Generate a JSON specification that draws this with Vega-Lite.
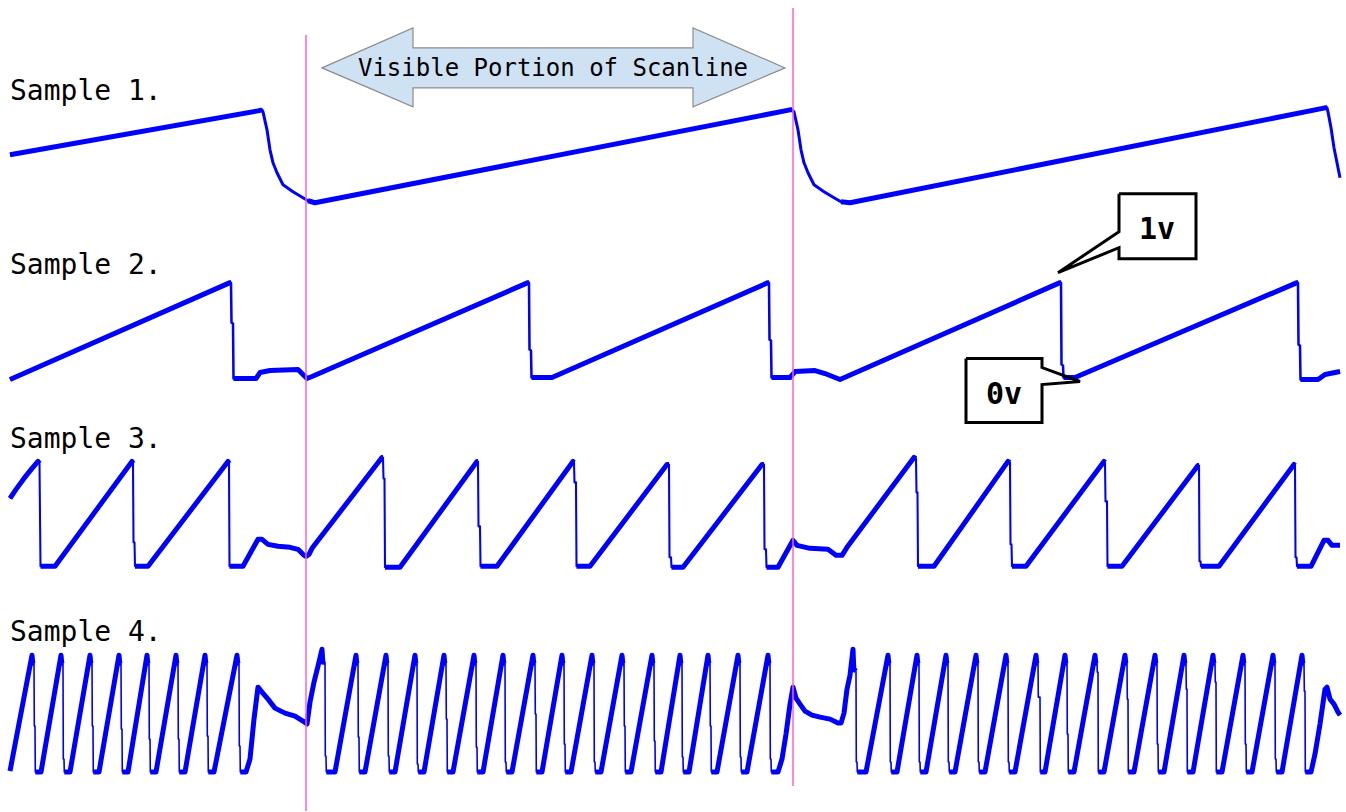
{
"$schema": "https://vega.github.io/schema/vega-lite/v6.json",
"width": 1346, "height": 812,
"autosize": {"type": "fit", "contains": "padding"},
"padding": 0,
"background": "white",
"config": {"view": {"stroke": null}},
"datasets": {
"traces": [
{"s":"1","g":"1a","t":10,"v":155},{"s":"1","g":"1a","t":258,"v":111},{"s":"1","g":"1a","t":262,"v":110},
{"s":"1","g":"-","t":263,"v":112},{"s":"1","g":"-","t":267,"v":130},{"s":"1","g":"-","t":270,"v":150},{"s":"1","g":"-","t":273,"v":163},{"s":"1","g":"-","t":277,"v":173},{"s":"1","g":"-","t":283,"v":185},{"s":"1","g":"-","t":293,"v":192},{"s":"1","g":"-","t":303,"v":198},
{"s":"1","g":"1b","t":308,"v":201},{"s":"1","g":"1b","t":315,"v":203},{"s":"1","g":"1b","t":790,"v":110},{"s":"1","g":"1b","t":792,"v":110},
{"s":"1","g":"-","t":794,"v":112},{"s":"1","g":"-","t":798,"v":130},{"s":"1","g":"-","t":801,"v":150},{"s":"1","g":"-","t":804,"v":163},{"s":"1","g":"-","t":808,"v":173},{"s":"1","g":"-","t":814,"v":185},{"s":"1","g":"-","t":824,"v":192},{"s":"1","g":"-","t":834,"v":198},
{"s":"1","g":"1c","t":841,"v":202},{"s":"1","g":"1c","t":850,"v":203},{"s":"1","g":"1c","t":1325,"v":108},{"s":"1","g":"1c","t":1327,"v":108},
{"s":"1","g":"-","t":1328,"v":112},{"s":"1","g":"-","t":1331,"v":128},{"s":"1","g":"-","t":1334,"v":148},{"s":"1","g":"-","t":1337,"v":163},{"s":"1","g":"-","t":1340,"v":178},

{"s":"2","g":"2a","t":10,"v":380},{"s":"2","g":"2a","t":230,"v":283},{"s":"2","g":"2a","t":231,"v":283},
{"s":"2","g":"-","t":231.5,"v":323},{"s":"2","g":"-","t":233,"v":324},
{"s":"2","g":"2b","t":233.5,"v":379},{"s":"2","g":"2b","t":256,"v":379},{"s":"2","g":"2b","t":260,"v":373},{"s":"2","g":"2b","t":270,"v":371},{"s":"2","g":"2b","t":298,"v":370},{"s":"2","g":"2b","t":303,"v":375},{"s":"2","g":"2b","t":307,"v":379},{"s":"2","g":"2b","t":312,"v":377},{"s":"2","g":"2b","t":528,"v":283},{"s":"2","g":"2b","t":529,"v":283},
{"s":"2","g":"-","t":529.5,"v":350},{"s":"2","g":"-","t":531,"v":351},
{"s":"2","g":"2c","t":531.5,"v":378},{"s":"2","g":"2c","t":552,"v":378},{"s":"2","g":"2c","t":768,"v":283},{"s":"2","g":"2c","t":769,"v":283},
{"s":"2","g":"-","t":769.5,"v":340},{"s":"2","g":"-","t":771,"v":341},
{"s":"2","g":"2d","t":771.5,"v":378},{"s":"2","g":"2d","t":790,"v":378},{"s":"2","g":"2d","t":795,"v":372},{"s":"2","g":"2d","t":815,"v":371},{"s":"2","g":"2d","t":825,"v":374},{"s":"2","g":"2d","t":840,"v":380},{"s":"2","g":"2d","t":1060,"v":283},{"s":"2","g":"2d","t":1061,"v":283},
{"s":"2","g":"-","t":1061.5,"v":365},{"s":"2","g":"-","t":1063,"v":366},
{"s":"2","g":"2e","t":1063.5,"v":378},{"s":"2","g":"2e","t":1075,"v":378},{"s":"2","g":"2e","t":1297,"v":283},{"s":"2","g":"2e","t":1298,"v":283},
{"s":"2","g":"-","t":1298.5,"v":345},{"s":"2","g":"-","t":1300,"v":346},
{"s":"2","g":"2f","t":1300.5,"v":380},{"s":"2","g":"2f","t":1318,"v":380},{"s":"2","g":"2f","t":1325,"v":375},{"s":"2","g":"2f","t":1340,"v":372},

{"s":"3","g":"3a","t":10,"v":499},{"s":"3","g":"3a","t":16,"v":490},{"s":"3","g":"3a","t":24,"v":479},{"s":"3","g":"3a","t":32,"v":469},{"s":"3","g":"3a","t":38,"v":462},{"s":"3","g":"3a","t":39.5,"v":464},
{"s":"3","g":"3b","t":40.5,"v":567},{"s":"3","g":"3b","t":55,"v":567},{"s":"3","g":"3b","t":132,"v":462},{"s":"3","g":"3b","t":133,"v":464},
{"s":"3","g":"-","t":133.5,"v":543},{"s":"3","g":"-","t":134.5,"v":543},
{"s":"3","g":"3c","t":135,"v":567},{"s":"3","g":"3c","t":148,"v":567},{"s":"3","g":"3c","t":228,"v":462},{"s":"3","g":"3c","t":229,"v":464},
{"s":"3","g":"3d","t":229.5,"v":567},{"s":"3","g":"3d","t":243,"v":567},{"s":"3","g":"3d","t":258,"v":540},{"s":"3","g":"3d","t":262,"v":540},{"s":"3","g":"3d","t":268,"v":545},{"s":"3","g":"3d","t":278,"v":547},{"s":"3","g":"3d","t":290,"v":548},{"s":"3","g":"3d","t":298,"v":550},{"s":"3","g":"3d","t":303,"v":555},{"s":"3","g":"3d","t":306,"v":557},{"s":"3","g":"3d","t":309,"v":555},{"s":"3","g":"3d","t":312,"v":549},{"s":"3","g":"3d","t":382,"v":458},{"s":"3","g":"3d","t":383,"v":458},
{"s":"3","g":"-","t":383.5,"v":479},{"s":"3","g":"-","t":384.5,"v":479},
{"s":"3","g":"3e","t":385,"v":568},{"s":"3","g":"3e","t":400,"v":568},{"s":"3","g":"3e","t":477,"v":462},{"s":"3","g":"3e","t":478,"v":462},
{"s":"3","g":"-","t":478.5,"v":527},{"s":"3","g":"-","t":480,"v":527},
{"s":"3","g":"3f","t":480.5,"v":567},{"s":"3","g":"3f","t":497,"v":567},{"s":"3","g":"3f","t":573,"v":462},{"s":"3","g":"3f","t":574,"v":463},
{"s":"3","g":"-","t":574.5,"v":483},{"s":"3","g":"-","t":576,"v":483},
{"s":"3","g":"3g","t":576.5,"v":567},{"s":"3","g":"3g","t":590,"v":567},{"s":"3","g":"3g","t":667,"v":465},{"s":"3","g":"3g","t":669,"v":465},
{"s":"3","g":"-","t":669.5,"v":558},{"s":"3","g":"-","t":671,"v":558},
{"s":"3","g":"3h","t":671.5,"v":568},{"s":"3","g":"3h","t":683,"v":568},{"s":"3","g":"3h","t":762,"v":465},{"s":"3","g":"3h","t":764,"v":465},
{"s":"3","g":"-","t":764.5,"v":550},{"s":"3","g":"-","t":766,"v":550},
{"s":"3","g":"3i","t":766.5,"v":568},{"s":"3","g":"3i","t":778,"v":568},{"s":"3","g":"3i","t":793,"v":541},{"s":"3","g":"3i","t":797,"v":546},{"s":"3","g":"3i","t":810,"v":549},{"s":"3","g":"3i","t":828,"v":550},{"s":"3","g":"3i","t":836,"v":556},{"s":"3","g":"3i","t":842,"v":556},{"s":"3","g":"3i","t":847,"v":548},{"s":"3","g":"3i","t":914,"v":458},{"s":"3","g":"3i","t":916,"v":459},
{"s":"3","g":"-","t":916.5,"v":493},{"s":"3","g":"-","t":917.5,"v":493},
{"s":"3","g":"3j","t":918,"v":567},{"s":"3","g":"3j","t":934,"v":567},{"s":"3","g":"3j","t":1008,"v":462},{"s":"3","g":"3j","t":1010,"v":463},
{"s":"3","g":"-","t":1010.5,"v":545},{"s":"3","g":"-","t":1011.5,"v":545},
{"s":"3","g":"3k","t":1012,"v":567},{"s":"3","g":"3k","t":1026,"v":567},{"s":"3","g":"3k","t":1104,"v":462},{"s":"3","g":"3k","t":1105,"v":463},
{"s":"3","g":"-","t":1105.5,"v":502},{"s":"3","g":"-","t":1107,"v":502},
{"s":"3","g":"3l","t":1107.5,"v":567},{"s":"3","g":"3l","t":1122,"v":567},{"s":"3","g":"3l","t":1198,"v":466},{"s":"3","g":"3l","t":1199,"v":466},
{"s":"3","g":"-","t":1199.5,"v":562},{"s":"3","g":"-","t":1200.5,"v":562},
{"s":"3","g":"3m","t":1201,"v":567},{"s":"3","g":"3m","t":1219,"v":567},{"s":"3","g":"3m","t":1294,"v":465},{"s":"3","g":"3m","t":1295,"v":466},
{"s":"3","g":"-","t":1295.5,"v":558},{"s":"3","g":"-","t":1296.5,"v":558},
{"s":"3","g":"3n","t":1297,"v":567},{"s":"3","g":"3n","t":1311,"v":567},{"s":"3","g":"3n","t":1324,"v":541},{"s":"3","g":"3n","t":1328,"v":541},{"s":"3","g":"3n","t":1332,"v":546},{"s":"3","g":"3n","t":1340,"v":546},

{"s":"4","g":"4a","t":10,"v":772},{"s":"4","g":"4a","t":32,"v":656},{"s":"4","g":"4a","t":32.8,"v":664},{"s":"4","g":"4a","t":34,"v":664},
{"s":"4","g":"-","t":34.3,"v":727},{"s":"4","g":"-","t":35,"v":727},
{"s":"4","g":"4b","t":35.3,"v":773},{"s":"4","g":"4b","t":41,"v":773},{"s":"4","g":"4b","t":61,"v":656},{"s":"4","g":"4b","t":61.8,"v":664},{"s":"4","g":"4b","t":63,"v":664},
{"s":"4","g":"-","t":63.3,"v":760},{"s":"4","g":"-","t":64,"v":760},
{"s":"4","g":"4c","t":64.3,"v":773},{"s":"4","g":"4c","t":70,"v":773},{"s":"4","g":"4c","t":90,"v":656},{"s":"4","g":"4c","t":90.8,"v":664},{"s":"4","g":"4c","t":92,"v":664},
{"s":"4","g":"-","t":92.3,"v":727},{"s":"4","g":"-","t":93,"v":727},
{"s":"4","g":"4d","t":93.3,"v":773},{"s":"4","g":"4d","t":99,"v":773},{"s":"4","g":"4d","t":119,"v":656},{"s":"4","g":"4d","t":119.8,"v":664},{"s":"4","g":"4d","t":121,"v":664},
{"s":"4","g":"-","t":121.3,"v":730},{"s":"4","g":"-","t":122,"v":730},
{"s":"4","g":"4e","t":122.3,"v":773},{"s":"4","g":"4e","t":128,"v":773},{"s":"4","g":"4e","t":147,"v":656},{"s":"4","g":"4e","t":147.8,"v":664},{"s":"4","g":"4e","t":149,"v":664},
{"s":"4","g":"-","t":149.3,"v":740},{"s":"4","g":"-","t":150,"v":740},
{"s":"4","g":"4f","t":150.3,"v":773},{"s":"4","g":"4f","t":156,"v":773},{"s":"4","g":"4f","t":176,"v":656},{"s":"4","g":"4f","t":176.8,"v":664},{"s":"4","g":"4f","t":178,"v":664},
{"s":"4","g":"-","t":178.3,"v":740},{"s":"4","g":"-","t":179,"v":740},
{"s":"4","g":"4g","t":179.3,"v":773},{"s":"4","g":"4g","t":185,"v":773},{"s":"4","g":"4g","t":205,"v":656},{"s":"4","g":"4g","t":205.8,"v":664},{"s":"4","g":"4g","t":207,"v":664},
{"s":"4","g":"-","t":207.3,"v":737},{"s":"4","g":"-","t":208,"v":737},
{"s":"4","g":"4h","t":208.3,"v":773},{"s":"4","g":"4h","t":214,"v":773},{"s":"4","g":"4h","t":237,"v":656},{"s":"4","g":"4h","t":237.8,"v":664},{"s":"4","g":"4h","t":239,"v":664},
{"s":"4","g":"-","t":239.3,"v":747},{"s":"4","g":"-","t":240,"v":747},
{"s":"4","g":"4i","t":240.3,"v":773},{"s":"4","g":"4i","t":246,"v":773},{"s":"4","g":"4i","t":250,"v":760},{"s":"4","g":"4i","t":254,"v":720},{"s":"4","g":"4i","t":258,"v":688},{"s":"4","g":"4i","t":262,"v":693},{"s":"4","g":"4i","t":268,"v":700},{"s":"4","g":"4i","t":275,"v":709},{"s":"4","g":"4i","t":285,"v":714},{"s":"4","g":"4i","t":295,"v":717},{"s":"4","g":"4i","t":303,"v":722},{"s":"4","g":"4i","t":307,"v":725},{"s":"4","g":"4i","t":310,"v":703},{"s":"4","g":"4i","t":314,"v":683},{"s":"4","g":"4i","t":318,"v":667},{"s":"4","g":"4i","t":322,"v":650},{"s":"4","g":"4i","t":322.8,"v":663},{"s":"4","g":"4i","t":325,"v":663},
{"s":"4","g":"-","t":325.3,"v":757},{"s":"4","g":"-","t":326,"v":757},
{"s":"4","g":"4j","t":326.3,"v":773},{"s":"4","g":"4j","t":335,"v":773},{"s":"4","g":"4j","t":356,"v":656},{"s":"4","g":"4j","t":356.8,"v":664},{"s":"4","g":"4j","t":358,"v":664},
{"s":"4","g":"-","t":358.3,"v":738},{"s":"4","g":"-","t":359,"v":738},
{"s":"4","g":"4k","t":359.3,"v":773},{"s":"4","g":"4k","t":365,"v":773},{"s":"4","g":"4k","t":386,"v":656},{"s":"4","g":"4k","t":386.8,"v":664},{"s":"4","g":"4k","t":388,"v":664},
{"s":"4","g":"-","t":388.3,"v":757},{"s":"4","g":"-","t":389,"v":757},
{"s":"4","g":"4l","t":389.3,"v":773},{"s":"4","g":"4l","t":395,"v":773},{"s":"4","g":"4l","t":415,"v":656},{"s":"4","g":"4l","t":415.8,"v":664},{"s":"4","g":"4l","t":417,"v":664},
{"s":"4","g":"-","t":417.3,"v":765},{"s":"4","g":"-","t":418,"v":765},
{"s":"4","g":"4m","t":418.3,"v":773},{"s":"4","g":"4m","t":424,"v":773},{"s":"4","g":"4m","t":444,"v":656},{"s":"4","g":"4m","t":444.8,"v":664},{"s":"4","g":"4m","t":446,"v":664},
{"s":"4","g":"-","t":446.3,"v":720},{"s":"4","g":"-","t":447,"v":720},
{"s":"4","g":"4n","t":447.3,"v":773},{"s":"4","g":"4n","t":453,"v":773},{"s":"4","g":"4n","t":474,"v":656},{"s":"4","g":"4n","t":474.8,"v":664},{"s":"4","g":"4n","t":476,"v":664},
{"s":"4","g":"-","t":476.3,"v":748},{"s":"4","g":"-","t":477,"v":748},
{"s":"4","g":"4o","t":477.3,"v":773},{"s":"4","g":"4o","t":483,"v":773},{"s":"4","g":"4o","t":503,"v":656},{"s":"4","g":"4o","t":503.8,"v":664},{"s":"4","g":"4o","t":505,"v":664},
{"s":"4","g":"-","t":505.3,"v":763},{"s":"4","g":"-","t":506,"v":763},
{"s":"4","g":"4p","t":506.3,"v":773},{"s":"4","g":"4p","t":512,"v":773},{"s":"4","g":"4p","t":533,"v":656},{"s":"4","g":"4p","t":533.8,"v":664},{"s":"4","g":"4p","t":535,"v":664},
{"s":"4","g":"-","t":535.3,"v":715},{"s":"4","g":"-","t":536,"v":715},
{"s":"4","g":"4q","t":536.3,"v":773},{"s":"4","g":"4q","t":542,"v":773},{"s":"4","g":"4q","t":562,"v":656},{"s":"4","g":"4q","t":562.8,"v":664},{"s":"4","g":"4q","t":564,"v":664},
{"s":"4","g":"-","t":564.3,"v":745},{"s":"4","g":"-","t":565,"v":745},
{"s":"4","g":"4r","t":565.3,"v":773},{"s":"4","g":"4r","t":571,"v":773},{"s":"4","g":"4r","t":592,"v":656},{"s":"4","g":"4r","t":592.8,"v":664},{"s":"4","g":"4r","t":594,"v":664},
{"s":"4","g":"-","t":594.3,"v":763},{"s":"4","g":"-","t":595,"v":763},
{"s":"4","g":"4s","t":595.3,"v":773},{"s":"4","g":"4s","t":601,"v":773},{"s":"4","g":"4s","t":622,"v":656},{"s":"4","g":"4s","t":622.8,"v":664},{"s":"4","g":"4s","t":624,"v":664},
{"s":"4","g":"-","t":624.3,"v":727},{"s":"4","g":"-","t":625,"v":727},
{"s":"4","g":"4t","t":625.3,"v":773},{"s":"4","g":"4t","t":631,"v":773},{"s":"4","g":"4t","t":652,"v":656},{"s":"4","g":"4t","t":652.8,"v":664},{"s":"4","g":"4t","t":654,"v":664},
{"s":"4","g":"-","t":654.3,"v":742},{"s":"4","g":"-","t":655,"v":742},
{"s":"4","g":"4u","t":655.3,"v":773},{"s":"4","g":"4u","t":661,"v":773},{"s":"4","g":"4u","t":680,"v":656},{"s":"4","g":"4u","t":680.8,"v":664},{"s":"4","g":"4u","t":682,"v":664},
{"s":"4","g":"-","t":682.3,"v":758},{"s":"4","g":"-","t":683,"v":758},
{"s":"4","g":"4v","t":683.3,"v":773},{"s":"4","g":"4v","t":689,"v":773},{"s":"4","g":"4v","t":708,"v":656},{"s":"4","g":"4v","t":708.8,"v":664},{"s":"4","g":"4v","t":710,"v":664},
{"s":"4","g":"-","t":710.3,"v":727},{"s":"4","g":"-","t":711,"v":727},
{"s":"4","g":"4w","t":711.3,"v":773},{"s":"4","g":"4w","t":717,"v":773},{"s":"4","g":"4w","t":738,"v":656},{"s":"4","g":"4w","t":738.8,"v":664},{"s":"4","g":"4w","t":740,"v":664},
{"s":"4","g":"-","t":740.3,"v":758},{"s":"4","g":"-","t":741,"v":758},
{"s":"4","g":"4x","t":741.3,"v":773},{"s":"4","g":"4x","t":747,"v":773},{"s":"4","g":"4x","t":768,"v":656},{"s":"4","g":"4x","t":768.8,"v":664},{"s":"4","g":"4x","t":770,"v":664},
{"s":"4","g":"-","t":770.3,"v":760},{"s":"4","g":"-","t":771,"v":760},
{"s":"4","g":"4y","t":771.3,"v":773},{"s":"4","g":"4y","t":778,"v":773},{"s":"4","g":"4y","t":782,"v":760},{"s":"4","g":"4y","t":786,"v":735},{"s":"4","g":"4y","t":790,"v":705},{"s":"4","g":"4y","t":793,"v":688},{"s":"4","g":"4y","t":796,"v":699},{"s":"4","g":"4y","t":800,"v":705},{"s":"4","g":"4y","t":805,"v":712},{"s":"4","g":"4y","t":812,"v":716},{"s":"4","g":"4y","t":820,"v":718},{"s":"4","g":"4y","t":830,"v":720},{"s":"4","g":"4y","t":838,"v":724},{"s":"4","g":"4y","t":841,"v":724},{"s":"4","g":"4y","t":844,"v":714},{"s":"4","g":"4y","t":847,"v":690},{"s":"4","g":"4y","t":850,"v":676},{"s":"4","g":"4y","t":853,"v":650},{"s":"4","g":"4y","t":853.8,"v":670},{"s":"4","g":"4y","t":856,"v":672},
{"s":"4","g":"-","t":856.3,"v":763},{"s":"4","g":"-","t":857,"v":763},
{"s":"4","g":"4z","t":857.3,"v":773},{"s":"4","g":"4z","t":866,"v":773},{"s":"4","g":"4z","t":888,"v":656},{"s":"4","g":"4z","t":888.8,"v":664},{"s":"4","g":"4z","t":890,"v":664},
{"s":"4","g":"-","t":890.3,"v":763},{"s":"4","g":"-","t":891,"v":763},
{"s":"4","g":"4A","t":891.3,"v":773},{"s":"4","g":"4A","t":897,"v":773},{"s":"4","g":"4A","t":917,"v":656},{"s":"4","g":"4A","t":917.8,"v":664},{"s":"4","g":"4A","t":919,"v":664},
{"s":"4","g":"-","t":919.3,"v":763},{"s":"4","g":"-","t":920,"v":763},
{"s":"4","g":"4B","t":920.3,"v":773},{"s":"4","g":"4B","t":926,"v":773},{"s":"4","g":"4B","t":946,"v":656},{"s":"4","g":"4B","t":946.8,"v":664},{"s":"4","g":"4B","t":948,"v":664},
{"s":"4","g":"-","t":948.3,"v":763},{"s":"4","g":"-","t":949,"v":763},
{"s":"4","g":"4C","t":949.3,"v":773},{"s":"4","g":"4C","t":955,"v":773},{"s":"4","g":"4C","t":976,"v":656},{"s":"4","g":"4C","t":976.8,"v":664},{"s":"4","g":"4C","t":978,"v":664},
{"s":"4","g":"-","t":978.3,"v":763},{"s":"4","g":"-","t":979,"v":763},
{"s":"4","g":"4D","t":979.3,"v":773},{"s":"4","g":"4D","t":985,"v":773},{"s":"4","g":"4D","t":1006,"v":656},{"s":"4","g":"4D","t":1006.8,"v":664},{"s":"4","g":"4D","t":1008,"v":664},
{"s":"4","g":"-","t":1008.3,"v":763},{"s":"4","g":"-","t":1009,"v":763},
{"s":"4","g":"4E","t":1009.3,"v":773},{"s":"4","g":"4E","t":1015,"v":773},{"s":"4","g":"4E","t":1036,"v":656},{"s":"4","g":"4E","t":1036.8,"v":664},{"s":"4","g":"4E","t":1038,"v":664},
{"s":"4","g":"-","t":1038.3,"v":698},{"s":"4","g":"-","t":1040,"v":698},
{"s":"4","g":"4F","t":1040.3,"v":773},{"s":"4","g":"4F","t":1045,"v":773},{"s":"4","g":"4F","t":1065,"v":656},{"s":"4","g":"4F","t":1065.8,"v":664},{"s":"4","g":"4F","t":1067,"v":664},
{"s":"4","g":"-","t":1067.3,"v":735},{"s":"4","g":"-","t":1068,"v":735},
{"s":"4","g":"4G","t":1068.3,"v":773},{"s":"4","g":"4G","t":1074,"v":773},{"s":"4","g":"4G","t":1095,"v":656},{"s":"4","g":"4G","t":1095.8,"v":664},{"s":"4","g":"4G","t":1097,"v":664},
{"s":"4","g":"-","t":1097.3,"v":673},{"s":"4","g":"-","t":1098,"v":673},
{"s":"4","g":"4H","t":1098.3,"v":773},{"s":"4","g":"4H","t":1104,"v":773},{"s":"4","g":"4H","t":1125,"v":656},{"s":"4","g":"4H","t":1125.8,"v":664},{"s":"4","g":"4H","t":1127,"v":664},
{"s":"4","g":"-","t":1127.3,"v":700},{"s":"4","g":"-","t":1128,"v":700},
{"s":"4","g":"4I","t":1128.3,"v":773},{"s":"4","g":"4I","t":1134,"v":773},{"s":"4","g":"4I","t":1155,"v":656},{"s":"4","g":"4I","t":1155.8,"v":664},{"s":"4","g":"4I","t":1157,"v":664},
{"s":"4","g":"-","t":1157.3,"v":745},{"s":"4","g":"-","t":1158,"v":745},
{"s":"4","g":"4J","t":1158.3,"v":773},{"s":"4","g":"4J","t":1164,"v":773},{"s":"4","g":"4J","t":1184,"v":656},{"s":"4","g":"4J","t":1184.8,"v":664},{"s":"4","g":"4J","t":1186,"v":664},
{"s":"4","g":"-","t":1186.3,"v":690},{"s":"4","g":"-","t":1187,"v":690},
{"s":"4","g":"4K","t":1187.3,"v":773},{"s":"4","g":"4K","t":1193,"v":773},{"s":"4","g":"4K","t":1213,"v":656},{"s":"4","g":"4K","t":1213.8,"v":664},{"s":"4","g":"4K","t":1215,"v":664},
{"s":"4","g":"-","t":1215.3,"v":683},{"s":"4","g":"-","t":1216,"v":683},
{"s":"4","g":"4L","t":1216.3,"v":773},{"s":"4","g":"4L","t":1222,"v":773},{"s":"4","g":"4L","t":1243,"v":656},{"s":"4","g":"4L","t":1243.8,"v":664},{"s":"4","g":"4L","t":1245,"v":664},
{"s":"4","g":"-","t":1245.3,"v":745},{"s":"4","g":"-","t":1246,"v":745},
{"s":"4","g":"4M","t":1246.3,"v":773},{"s":"4","g":"4M","t":1252,"v":773},{"s":"4","g":"4M","t":1273,"v":656},{"s":"4","g":"4M","t":1273.8,"v":664},{"s":"4","g":"4M","t":1275,"v":664},
{"s":"4","g":"-","t":1275.3,"v":760},{"s":"4","g":"-","t":1276,"v":760},
{"s":"4","g":"4N","t":1276.3,"v":773},{"s":"4","g":"4N","t":1282,"v":773},{"s":"4","g":"4N","t":1302,"v":656},{"s":"4","g":"4N","t":1302.8,"v":664},{"s":"4","g":"4N","t":1304,"v":664},
{"s":"4","g":"-","t":1304.3,"v":692},{"s":"4","g":"-","t":1305,"v":692},
{"s":"4","g":"4O","t":1305.3,"v":773},{"s":"4","g":"4O","t":1311,"v":773},{"s":"4","g":"4O","t":1315,"v":755},{"s":"4","g":"4O","t":1320,"v":725},{"s":"4","g":"4O","t":1325,"v":690},{"s":"4","g":"4O","t":1327,"v":688},{"s":"4","g":"4O","t":1330,"v":700},{"s":"4","g":"4O","t":1334,"v":705},{"s":"4","g":"4O","t":1338,"v":713},{"s":"4","g":"4O","t":1340,"v":716}
],
"arrow": [
{"t":322,"v":68,"v2":68},{"t":413,"v":28,"v2":107},{"t":413.01,"v":48,"v2":88},
{"t":693,"v":48,"v2":88},{"t":693.01,"v":28,"v2":107},{"t":785,"v":68,"v2":68}
],
"arrowText": [{"label":"Visible Portion of Scanline","t":553,"v":76}],
"labels": [
{"label":"Sample 1.","t":10,"v":100},
{"label":"Sample 2.","t":10,"v":274},
{"label":"Sample 3.","t":10,"v":449},
{"label":"Sample 4.","t":10,"v":642}
],
"guides": [{"t":306,"v":35,"v2":812},{"t":793,"v":8,"v2":787}],
"callouts": [
{"c":"1v","i":1,"t":1119,"v":194},{"c":"1v","i":2,"t":1196,"v":194},{"c":"1v","i":3,"t":1196,"v":259},{"c":"1v","i":4,"t":1119,"v":259},{"c":"1v","i":5,"t":1119,"v":248},{"c":"1v","i":6,"t":1058,"v":273},{"c":"1v","i":7,"t":1119,"v":232},{"c":"1v","i":8,"t":1119,"v":194},
{"c":"0v","i":1,"t":966,"v":359},{"c":"0v","i":2,"t":1042,"v":359},{"c":"0v","i":3,"t":1042,"v":368},{"c":"0v","i":4,"t":1080,"v":382},{"c":"0v","i":5,"t":1042,"v":385},{"c":"0v","i":6,"t":1042,"v":423},{"c":"0v","i":7,"t":966,"v":423},{"c":"0v","i":8,"t":966,"v":359}
],
"calloutText": [{"label":"1v","t":1157,"v":239},{"label":"0v","t":1004,"v":404}]
},
"layer": [
{
"data": {"name": "arrow"},
"mark": {"type": "area", "fill": "#cfe2f3", "stroke": "#8c8c8c", "strokeWidth": 1.2, "interpolate": "linear"},
"encoding": {
"x": {"field": "t", "type": "quantitative", "scale": {"domain": [0, 1346], "nice": false, "zero": false}, "axis": null},
"y": {"field": "v", "type": "quantitative", "scale": {"domain": [0, 812], "nice": false, "zero": false, "reverse": true}, "axis": null},
"y2": {"field": "v2"}
}
},
{
"data": {"name": "arrowText"},
"mark": {"type": "text", "font": "DejaVu Sans Mono", "fontSize": 24, "align": "center", "baseline": "alphabetic", "color": "#000000"},
"encoding": {
"x": {"field": "t", "type": "quantitative"},
"y": {"field": "v", "type": "quantitative"},
"text": {"field": "label"}
}
},
{
"data": {"name": "labels"},
"mark": {"type": "text", "font": "DejaVu Sans Mono", "fontSize": 28, "align": "left", "baseline": "alphabetic", "color": "#000000"},
"encoding": {
"x": {"field": "t", "type": "quantitative"},
"y": {"field": "v", "type": "quantitative"},
"text": {"field": "label"}
}
},
{
"data": {"name": "traces"},
"mark": {"type": "line", "color": "#0000ff", "strokeJoin": "round"},
"encoding": {
"x": {"field": "t", "type": "quantitative"},
"y": {"field": "v", "type": "quantitative"},
"detail": {"field": "s"},
"strokeWidth": {"field": "s", "type": "ordinal", "scale": {"domain": ["1","2","3","4"], "range": [3, 1.6, 1.8, 1.8]}, "legend": null}
}
},
{
"data": {"name": "traces"},
"transform": [{"filter": "datum.g != '-'"}],
"mark": {"type": "line", "color": "#0000ff", "strokeJoin": "round"},
"encoding": {
"x": {"field": "t", "type": "quantitative"},
"y": {"field": "v", "type": "quantitative"},
"detail": {"field": "g"},
"strokeWidth": {"field": "s", "type": "ordinal", "scale": {"domain": ["1","2","3","4"], "range": [5, 5, 3.2, 2.4]}, "legend": null}
}
},
{
"data": {"name": "guides"},
"mark": {"type": "rule", "color": "#ff5fd0", "strokeWidth": 1.5},
"encoding": {
"x": {"field": "t", "type": "quantitative"},
"y": {"field": "v", "type": "quantitative"},
"y2": {"field": "v2"}
}
},
{
"data": {"name": "callouts"},
"mark": {"type": "line", "color": "#000000", "strokeWidth": 3, "strokeJoin": "miter"},
"encoding": {
"x": {"field": "t", "type": "quantitative"},
"y": {"field": "v", "type": "quantitative"},
"detail": {"field": "c"},
"order": {"field": "i", "type": "quantitative"}
}
},
{
"data": {"name": "calloutText"},
"mark": {"type": "text", "font": "DejaVu Sans Mono", "fontSize": 30, "fontWeight": "bold", "align": "center", "baseline": "alphabetic", "color": "#000000"},
"encoding": {
"x": {"field": "t", "type": "quantitative"},
"y": {"field": "v", "type": "quantitative"},
"text": {"field": "label"}
}
}
],
"resolve": {"scale": {"strokeWidth": "independent"}}
}
